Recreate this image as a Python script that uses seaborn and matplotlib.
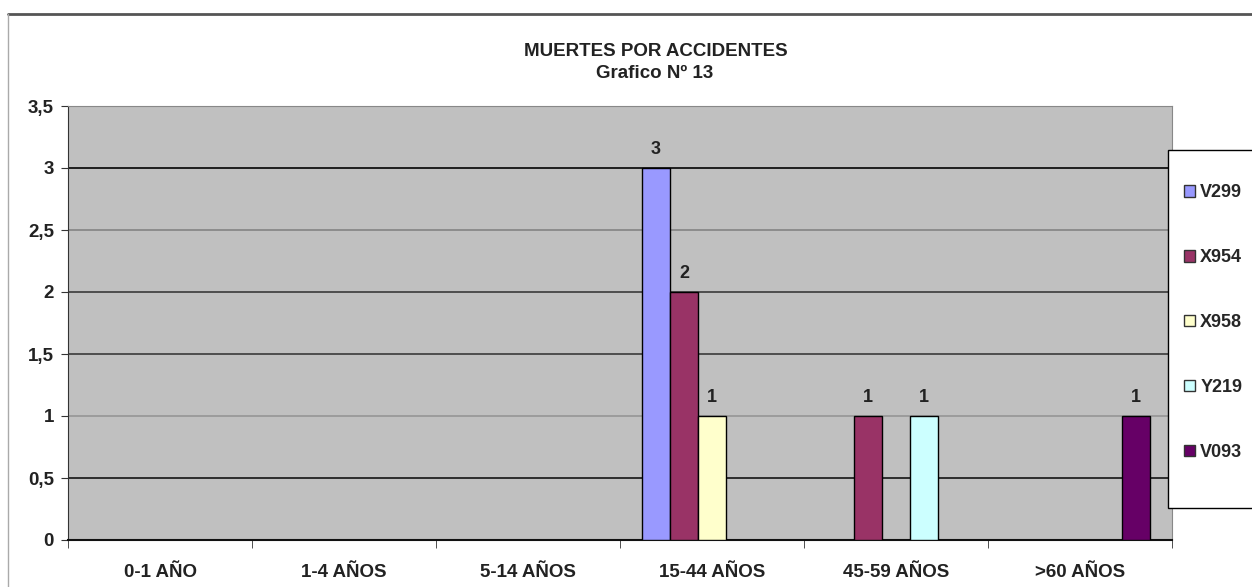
import pandas as pd
import seaborn as sns
import matplotlib.pyplot as plt
from matplotlib.ticker import FuncFormatter, FixedLocator
from matplotlib.lines import Line2D
from matplotlib.patches import Rectangle

# datos
edades = ['0-1 AÑO', '1-4 AÑOS', '5-14 AÑOS', '15-44 AÑOS', '45-59 AÑOS', '>60 AÑOS']
causas = ['V299', 'X954', 'X958', 'Y219', 'V093']
colores = ['#9999FF', '#993366', '#FFFFCC', '#CCFFFF', '#660066']

fila_edad = ['15-44 AÑOS', '15-44 AÑOS', '15-44 AÑOS', '45-59 AÑOS', '45-59 AÑOS', '>60 AÑOS']
fila_causa = ['V299', 'X954', 'X958', 'X954', 'Y219', 'V093']
muertes = [3, 2, 1, 1, 1, 1]

data = pd.DataFrame({'Edad': fila_edad, 'Causa': fila_causa, 'Muertes': muertes})

sns.set_style('white')
plt.rcParams['font.family'] = ['Liberation Sans', 'DejaVu Sans']
plt.rcParams['font.weight'] = 'bold'

fig = plt.figure(figsize=(12.52, 5.87), dpi=100)
ax = fig.add_axes([68 / 1252, 1 - 540 / 587, (1172 - 68) / 1252, (540 - 106) / 587])

sns.barplot(data=data, x='Edad', y='Muertes', hue='Causa', order=edades, hue_order=causas,
            palette=colores, width=0.76, edgecolor='black', linewidth=1, saturation=1,
            errorbar=None, ax=ax, zorder=3)

for cont in ax.containers:
    ax.bar_label(cont, padding=7, fontsize=13, fontweight='bold', color='#222222')

ax.set_facecolor('#C0C0C0')
ax.set_xlim(-0.5, len(edades) - 0.5)
ax.set_ylim(0, 3.5)
ax.set_yticks([0, 0.5, 1, 1.5, 2, 2.5, 3, 3.5])
ax.yaxis.set_major_formatter(FuncFormatter(lambda v, p: ('%g' % v).replace('.', ',')))
ax.set_xlabel('')
ax.set_ylabel('')

ax.grid(axis='y', zorder=0)
grises = ['#000000', '#222222', '#999999', '#444444', '#444444', '#888888', '#111111', '#888888']
for linea, c in zip(ax.yaxis.get_gridlines(), grises):
    linea.set_color(c)
    linea.set_linewidth(1.3)

ax.xaxis.set_minor_locator(FixedLocator([i - 0.5 for i in range(len(edades) + 1)]))
ax.tick_params(axis='x', which='major', length=0, pad=17, labelsize=13.5)
ax.tick_params(axis='x', which='minor', length=6, direction='out', color='#333333', bottom=True)
ax.tick_params(axis='y', length=5, direction='out', color='#333333', left=True, pad=5, labelsize=13.5)
for lab in ax.get_xticklabels() + ax.get_yticklabels():
    lab.set_fontweight('bold')
    lab.set_color('#222222')

ax.spines['left'].set_color('#333333')
ax.spines['bottom'].set_color('#111111')
ax.spines['bottom'].set_linewidth(1.5)
ax.spines['top'].set_color('#888888')
ax.spines['right'].set_color('#888888')

# leyenda con marco propio, cortado a la derecha
handles, labels = ax.get_legend_handles_labels()
ax.legend_.remove()
fig.add_artist(Rectangle((1168 / 1252, 1 - 508 / 587), 0.2, (508 - 150) / 587,
                         transform=fig.transFigure, facecolor='white', edgecolor='black', lw=1))
leg = fig.legend(handles, labels, loc='center left',
                 bbox_to_anchor=(1184 / 1252, 1 - 322.5 / 587), frameon=False,
                 handlelength=0.6, handleheight=0.6, handletextpad=0.3,
                 labelspacing=2.65, borderpad=0, borderaxespad=0,
                 prop={'weight': 'bold', 'size': 13})
for h in leg.legend_handles:
    h.set_edgecolor('#333333')

fig.text(656 / 1252, 1 - 52 / 587, 'MUERTES POR ACCIDENTES', ha='center', va='center',
         fontsize=13.5, fontweight='bold', color='#222222')
fig.text(655 / 1252, 1 - 73 / 587, 'Grafico Nº 13', ha='center', va='center',
         fontsize=13.5, fontweight='bold', color='#222222')

fig.add_artist(Line2D([8 / 1252, 1], [1 - 14 / 587] * 2, color='#555555', lw=2, transform=fig.transFigure))
fig.add_artist(Line2D([8 / 1252] * 2, [0, 1 - 14 / 587], color='#AAAAAA', lw=1, transform=fig.transFigure))

plt.savefig('out.png', dpi=100)
